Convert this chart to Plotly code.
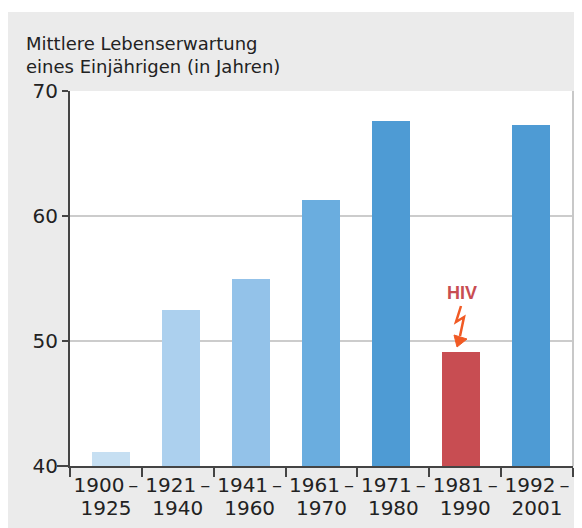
import plotly.graph_objects as go

# ---- data ----
period_start = ["1900\u2009–", "1921\u2009–", "1941\u2009–", "1961\u2009–",
                "1971\u2009–", "1981\u2009–", "1992\u2009–"]
period_end = ["1925", "1940", "1960", "1970", "1980", "1990", "2001"]
life_expectancy = [41.1, 52.5, 55.0, 61.3, 67.6, 49.1, 67.3]
bar_colors = ["#c6dff2", "#acd0ee", "#93c2e9", "#6aaddf", "#4e9bd4", "#c84d52", "#4e9bd4"]
y_ticks = [40, 50, 60, 70]
title_text = "Mittlere Lebenserwartung<br>eines Einjährigen (in Jahren)"
hiv_label = "HIV"
hiv_index = 5

FONT = "DejaVu Sans"
OFF = 8                      # page margin of the browser body
W, H = 574, 520              # figure size
L, T = 62, 83
pw, ph = 503, 375
R, B = W - L - pw, H - T - ph

n = len(period_start)
x_pos = list(range(n))
bar_step_px = 70.0
first_center_px = 111.0 - OFF   # figure pixel of first bar centre


def px2x(px):            # window pixel -> x data
    return (px - OFF - first_center_px) / bar_step_px


ymin, ymax = 40, 70
ppu = ph / (ymax - ymin)


def px2y(py):            # window pixel -> y data
    return ymin + (T + ph - (py - OFF)) / ppu


x0 = (L - first_center_px) / bar_step_px
x1 = (L + pw - first_center_px) / bar_step_px
cat_px = pw / n
bound_vals = [(L + k * cat_px - first_center_px) / bar_step_px for k in range(n + 1)]
label_vals = [(L + (k + 0.5) * cat_px - first_center_px) / bar_step_px for k in range(n)]

fig = go.Figure()
fig.add_trace(go.Bar(x=x_pos, y=life_expectancy, marker=dict(color=bar_colors, line=dict(width=0)),
                     width=38 / bar_step_px, hoverinfo="skip"))
for ax in ("x2", "x3"):
    fig.add_trace(go.Scatter(x=label_vals, y=[ymin] * n, xaxis=ax, mode="markers",
                             marker=dict(opacity=0), hoverinfo="skip", showlegend=False))

# white strip at the very top of the figure
fig.add_shape(type="rect", xref="paper", yref="paper", layer="below",
              x0=-L / pw - 0.01, x1=(W - L) / pw + 0.01,
              y0=(T + ph - 4) / ph, y1=(T + ph) / ph + 0.01,
              fillcolor="white", line=dict(width=0))
# right border of plot area
fig.add_shape(type="line", xref="paper", yref="paper", x0=1, x1=1, y0=0, y1=1,
              line=dict(color="#c8c8c8", width=2))
# baseline extension to the left of the y axis
fig.add_shape(type="line", xref="paper", yref="paper", x0=-13 / pw, x1=0, y0=0, y1=0,
              line=dict(color="#444", width=2))

# lightning bolt
bolt = [(461, 306), (456, 322), (464, 317), (460, 336)]
path = "M " + " L ".join(f"{px2x(a)},{px2y(b)}" for a, b in bolt)
fig.add_shape(type="path", xref="x", yref="y", path=path, line=dict(color="#f15a24", width=2.5))
head = [(454, 335), (467, 339), (457, 347)]
hpath = "M " + " L ".join(f"{px2x(a)},{px2y(b)}" for a, b in head) + " Z"
fig.add_shape(type="path", xref="x", yref="y", path=hpath, fillcolor="#f15a24",
              line=dict(color="#f15a24", width=1))

fig.add_annotation(x=px2x(461.5), y=px2y(293), xref="x", yref="y", text=f"<b>{hiv_label}</b>",
                   showarrow=False, font=dict(family="Liberation Sans", size=18, color="#c84d52"),
                   xanchor="center", yanchor="middle")

fig.add_annotation(x=(24 - OFF - L) / pw, y=(T + ph - (31 - OFF)) / ph, xref="paper", yref="paper",
                   text=title_text, showarrow=False, align="left", xanchor="left", yanchor="top",
                   font=dict(family=FONT, size=18, color="#222"))

common = dict(range=[x0, x1], overlaying="x", anchor="y", side="bottom", ticks="",
              showline=False, showgrid=False, zeroline=False, tickvals=label_vals)
fig.update_layout(
    width=W, height=H, margin=dict(l=L, r=R, t=T, b=B, pad=0),
    paper_bgcolor="#ebebeb", plot_bgcolor="white", showlegend=False,
    font=dict(family=FONT, color="#222"),
    bargap=0,
    xaxis=dict(range=[x0, x1], tickvals=bound_vals, ticks="outside", ticklen=9, tickwidth=2,
               tickcolor="#444", showticklabels=False, showline=True, linecolor="#444", linewidth=2,
               showgrid=False, zeroline=False, fixedrange=True),
    xaxis2=dict(ticktext=period_start, tickfont=dict(family=FONT, size=20, color="#222"),
                ticklabelstandoff=5, **common),
    xaxis3=dict(ticktext=period_end, tickfont=dict(family=FONT, size=20, color="#222"),
                ticklabelstandoff=28, **common),
    yaxis=dict(range=[ymin, ymax], tickvals=y_ticks, ticks="outside", ticklen=6, tickwidth=2,
               tickcolor="#444", showline=True, linecolor="#444", linewidth=2,
               gridcolor="#cccccc", gridwidth=2, zeroline=False,
               tickfont=dict(family=FONT, size=20, color="#222"), ticklabelstandoff=0),
)

fig.write_html("out.html")
